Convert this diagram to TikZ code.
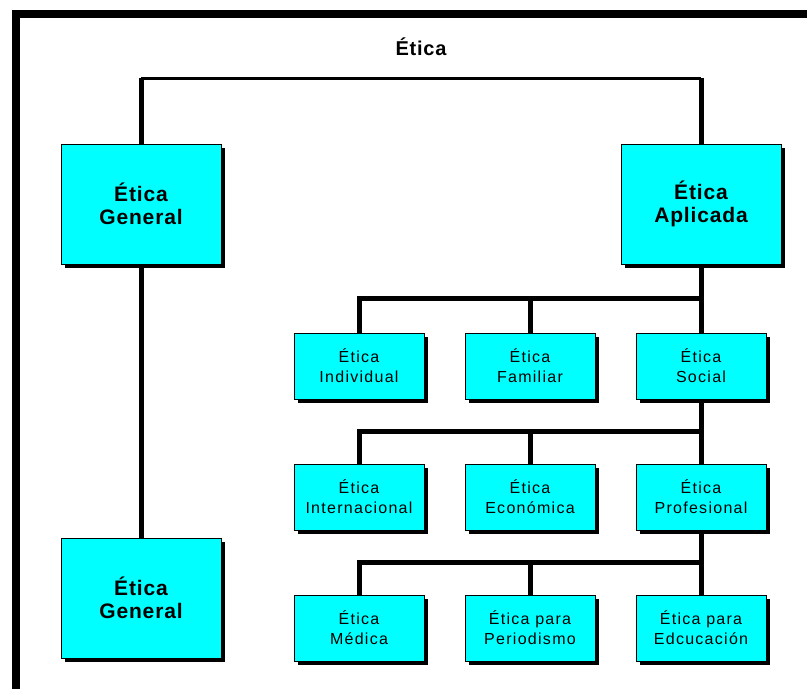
\documentclass[tikz,border=0pt]{standalone}
\usepackage{fontspec}
\setmainfont{Liberation Sans}
\newfontfamily\wideface[LetterSpace=8]{Liberation Sans}
\newfontfamily\boldface[LetterSpace=4]{Liberation Sans Bold}
\usetikzlibrary{positioning,calc,shadows}
\definecolor{aqua}{RGB}{0,255,255}

\begin{document}
\begin{tikzpicture}[
  x=1pt, y=-1pt,
  node distance=64pt and 40pt,
  big/.style={rectangle, draw, line width=1pt, fill=aqua, align=center, minimum width=160pt, minimum height=120pt, font=\boldface\fontsize{21}{23}\selectfont, drop shadow={shadow xshift=4pt, shadow yshift=-4pt, fill=black, opacity=1}},
  small/.style={rectangle, draw, line width=1pt, fill=aqua, align=center, minimum width=130pt, minimum height=66pt, font=\wideface\fontsize{16}{20}\selectfont, drop shadow={shadow xshift=4pt, shadow yshift=-4pt, fill=black, opacity=1}},
  heading/.style={font=\boldface\fontsize{20}{22}\selectfont},
  wire/.style={line width=5pt},
  crossbar/.style={line width=3pt}
]
  \useasboundingbox (0,0) rectangle (807,689);
  \draw[line width=8pt] (16,689) -- (16,14) -- (807,14);

  \node[heading] (etica) at (421,47) {Ética};
  \node[big] (gen) at (141,204) {Ética\\General};
  \node[big] (apl) at (701,204) {Ética\\Aplicada};
  \node[big] (gen2) at (141,598) {Ética\\General};
  \node[small, below=68pt of apl] (soc) {Ética\\Social};
  \node[small, left=of soc] (fam) {Ética\\Familiar};
  \node[small, left=of fam] (ind) {Ética\\Individual};
  \node[small, below=of soc] (prof) {Ética\\Profesional};
  \node[small, left=of prof] (eco) {Ética\\Económica};
  \node[small, left=of eco] (inter) {Ética\\Internacional};
  \node[small, below=of prof] (edu) {Ética para\\Edcucación};
  \node[small, left=of edu] (per) {Ética para\\Periodismo};
  \node[small, left=of per] (med) {Ética\\Médica};

  \coordinate (tbar) at (421,78);
  \coordinate (b1) at ($(apl.south)!0.5!(soc.north)$);
  \coordinate (b2) at ($(soc.south)!0.5!(prof.north)$);
  \coordinate (b3) at ($(prof.south)!0.5!(edu.north)$);

  \draw[crossbar] (gen.north |- tbar) -- (apl.north |- tbar);
  \draw[wire] (gen.north) -- (gen.north |- tbar);
  \draw[wire] (apl.north) -- (apl.north |- tbar);
  \draw[wire] (gen) -- (gen2);
  \draw[wire] (apl) -- (soc);
  \draw[wire] (b1) -| (ind);
  \draw[wire] (b1) -| (fam);
  \draw[wire] (soc) -- (prof);
  \draw[wire] (b2) -| (inter);
  \draw[wire] (b2) -| (eco);
  \draw[wire] (prof) -- (edu);
  \draw[wire] (b3) -| (med);
  \draw[wire] (b3) -| (per);
\end{tikzpicture}
\end{document}
